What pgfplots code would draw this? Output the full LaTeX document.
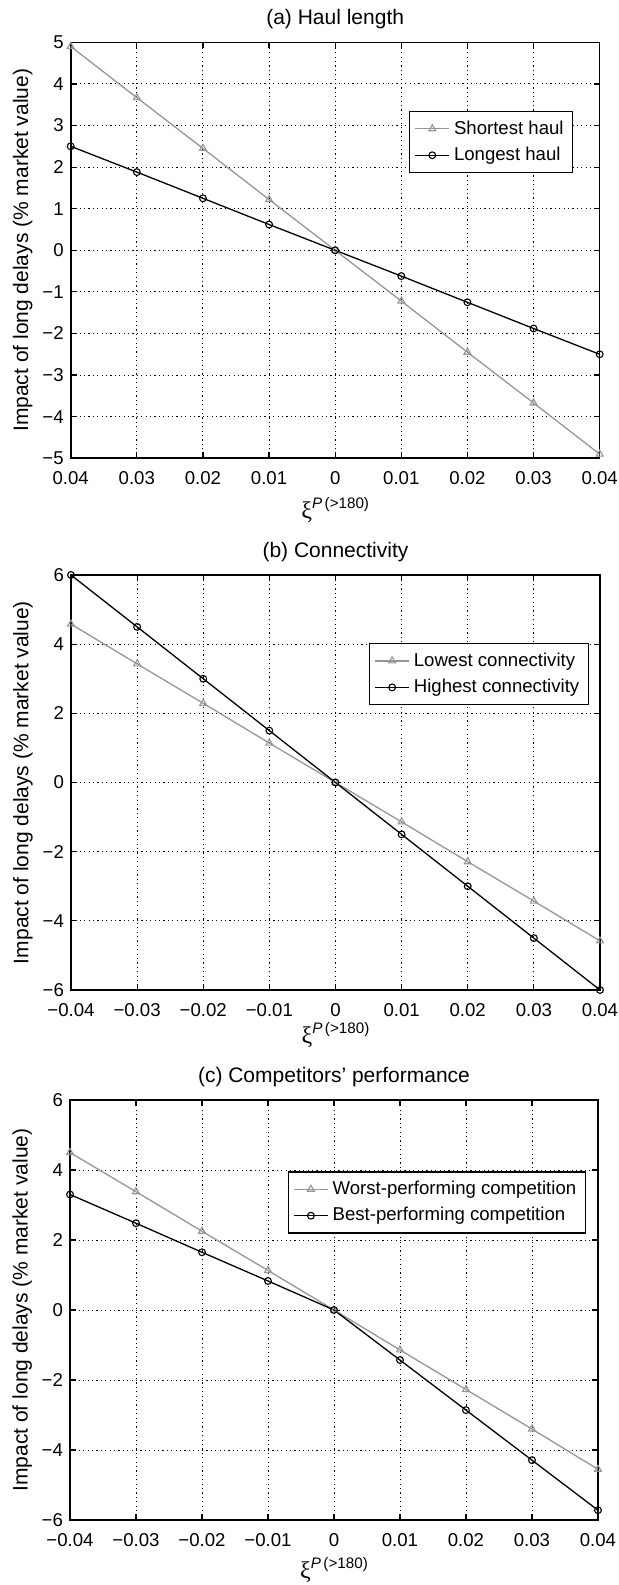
\documentclass[border=0pt]{standalone}
\usepackage{fontspec}
\setmainfont{Liberation Sans}
\newfontfamily\greekfont{Liberation Serif}
\usepackage{pgfplots}
\pgfplotsset{compat=1.18}
\definecolor{lgray}{RGB}{150,150,150}
\newcommand{\xilabel}{{\greekfont\fontsize{12}{13}\selectfont ξ}\raisebox{1.0ex}{\fontsize{7.6}{8}\selectfont\textit{P}\,(>180)}}
\pgfplotsset{
  mystyle/.style={
    scale only axis,
    xmin=-0.04, xmax=0.04,
    xtick={-0.04,-0.03,-0.02,-0.01,0,0.01,0.02,0.03,0.04},
    scaled x ticks=false,
    grid=major,
    major grid style={black, line width=0.45pt, dash pattern=on 0.6pt off 1.6pt},
    axis line style={black, line width=0.8pt},
    tick style={black, line width=0.6pt},
    tick align=inside, major tick length=3pt,
    xtick pos=both, ytick pos=both,
    tick label style={font=\fontsize{9.3}{10}\selectfont},
    xticklabel style={yshift=-3pt},
    every axis title/.style={at={(0.5,1)}, anchor=south, yshift=3pt, font=\fontsize{10.5}{12}\selectfont},
    every axis y label/.style={at={(axis description cs:-0.0907,0.5)}, rotate=90, anchor=center, font=\fontsize{10.5}{12}\selectfont},
    every axis x label/.style={at={(axis description cs:0.5,0)}, anchor=center, yshift=-26pt},
    ylabel={Impact of long delays (\% market value)},
    xlabel={\xilabel},
    legend style={font=\fontsize{9.3}{11}\selectfont, draw=black, line width=0.6pt, fill=white, inner sep=2.5pt, row sep=1pt},
    legend cell align=left,
  },
  grayline/.style={color=lgray, line width=0.65pt, mark=triangle, mark size=2pt, mark options={solid, line width=0.55pt}},
  blackline/.style={color=black, line width=0.65pt, mark=o, mark size=1.7pt, mark options={solid, line width=0.55pt}},
}
\begin{document}
\begin{tikzpicture}
\useasboundingbox (0,0) rectangle (309pt,-792.5pt);
% (a)
\begin{axis}[mystyle, at={(35.35pt,-21.15pt)}, anchor=north west, width=264.5pt, height=208pt,
  ymin=-5, ymax=5, ytick={-5,-4,-3,-2,-1,0,1,2,3,4,5},
  yticklabels={−5,−4,−3,−2,−1,0,1,2,3,4,5},
  xticklabels={0.04,0.03,0.02,0.01,0,0.01,0.02,0.03,0.04},
  title={(a) Haul length},
  legend style={at={(0.95,0.835)}, anchor=north east}]
\addplot[grayline] coordinates {(-0.04,4.9) (-0.03,3.67) (-0.02,2.45) (-0.01,1.22) (0,0) (0.01,-1.22) (0.02,-2.45) (0.03,-3.67) (0.04,-4.9)};
\addlegendentry{Shortest haul}
\addplot[blackline] coordinates {(-0.04,2.5) (-0.03,1.88) (-0.02,1.25) (-0.01,0.62) (0,0) (0.01,-0.62) (0.02,-1.25) (0.03,-1.88) (0.04,-2.5)};
\addlegendentry{Longest haul}
\end{axis}
% (b)
\begin{axis}[mystyle, at={(35.5pt,-287.5pt)}, anchor=north west, width=264.5pt, height=207.5pt,
  ymin=-6, ymax=6, ytick={-6,-4,-2,0,2,4,6},
  yticklabels={−6,−4,−2,0,2,4,6},
  xticklabels={−0.04,−0.03,−0.02,−0.01,0,0.01,0.02,0.03,0.04},
  every axis x label/.style={at={(axis description cs:0.5,0)}, anchor=center, yshift=-22.5pt},
  title={(b) Connectivity},
  legend style={at={(0.979,0.836)}, anchor=north east}]
\addplot[grayline] coordinates {(-0.04,4.58) (-0.03,3.43) (-0.02,2.29) (-0.01,1.14) (0,0) (0.01,-1.14) (0.02,-2.29) (0.03,-3.43) (0.04,-4.58)};
\addlegendentry{Lowest connectivity}
\addplot[blackline] coordinates {(-0.04,6) (-0.03,4.5) (-0.02,3) (-0.01,1.5) (0,0) (0.01,-1.5) (0.02,-3) (0.03,-4.5) (0.04,-6)};
\addlegendentry{Highest connectivity}
\end{axis}
% (c)
\begin{axis}[mystyle, at={(35pt,-550pt)}, anchor=north west, width=264pt, height=210pt,
  ymin=-6, ymax=6, ytick={-6,-4,-2,0,2,4,6},
  yticklabels={−6,−4,−2,0,2,4,6},
  xticklabels={−0.04,−0.03,−0.02,−0.01,0,0.01,0.02,0.03,0.04},
  every axis x label/.style={at={(axis description cs:0.5,0)}, anchor=center, yshift=-25pt},
  title={(c) Competitors’ performance},
  legend style={at={(0.977,0.83)}, anchor=north east}]
\addplot[grayline] coordinates {(-0.04,4.5) (-0.03,3.38) (-0.02,2.25) (-0.01,1.13) (0,0) (0.01,-1.14) (0.02,-2.27) (0.03,-3.4) (0.04,-4.55)};
\addlegendentry{Worst-performing competition}
\addplot[blackline] coordinates {(-0.04,3.3) (-0.03,2.48) (-0.02,1.65) (-0.01,0.83) (0,0) (0.01,-1.43) (0.02,-2.86) (0.03,-4.29) (0.04,-5.72)};
\addlegendentry{Best-performing competition}
\end{axis}
\end{tikzpicture}
\end{document}
